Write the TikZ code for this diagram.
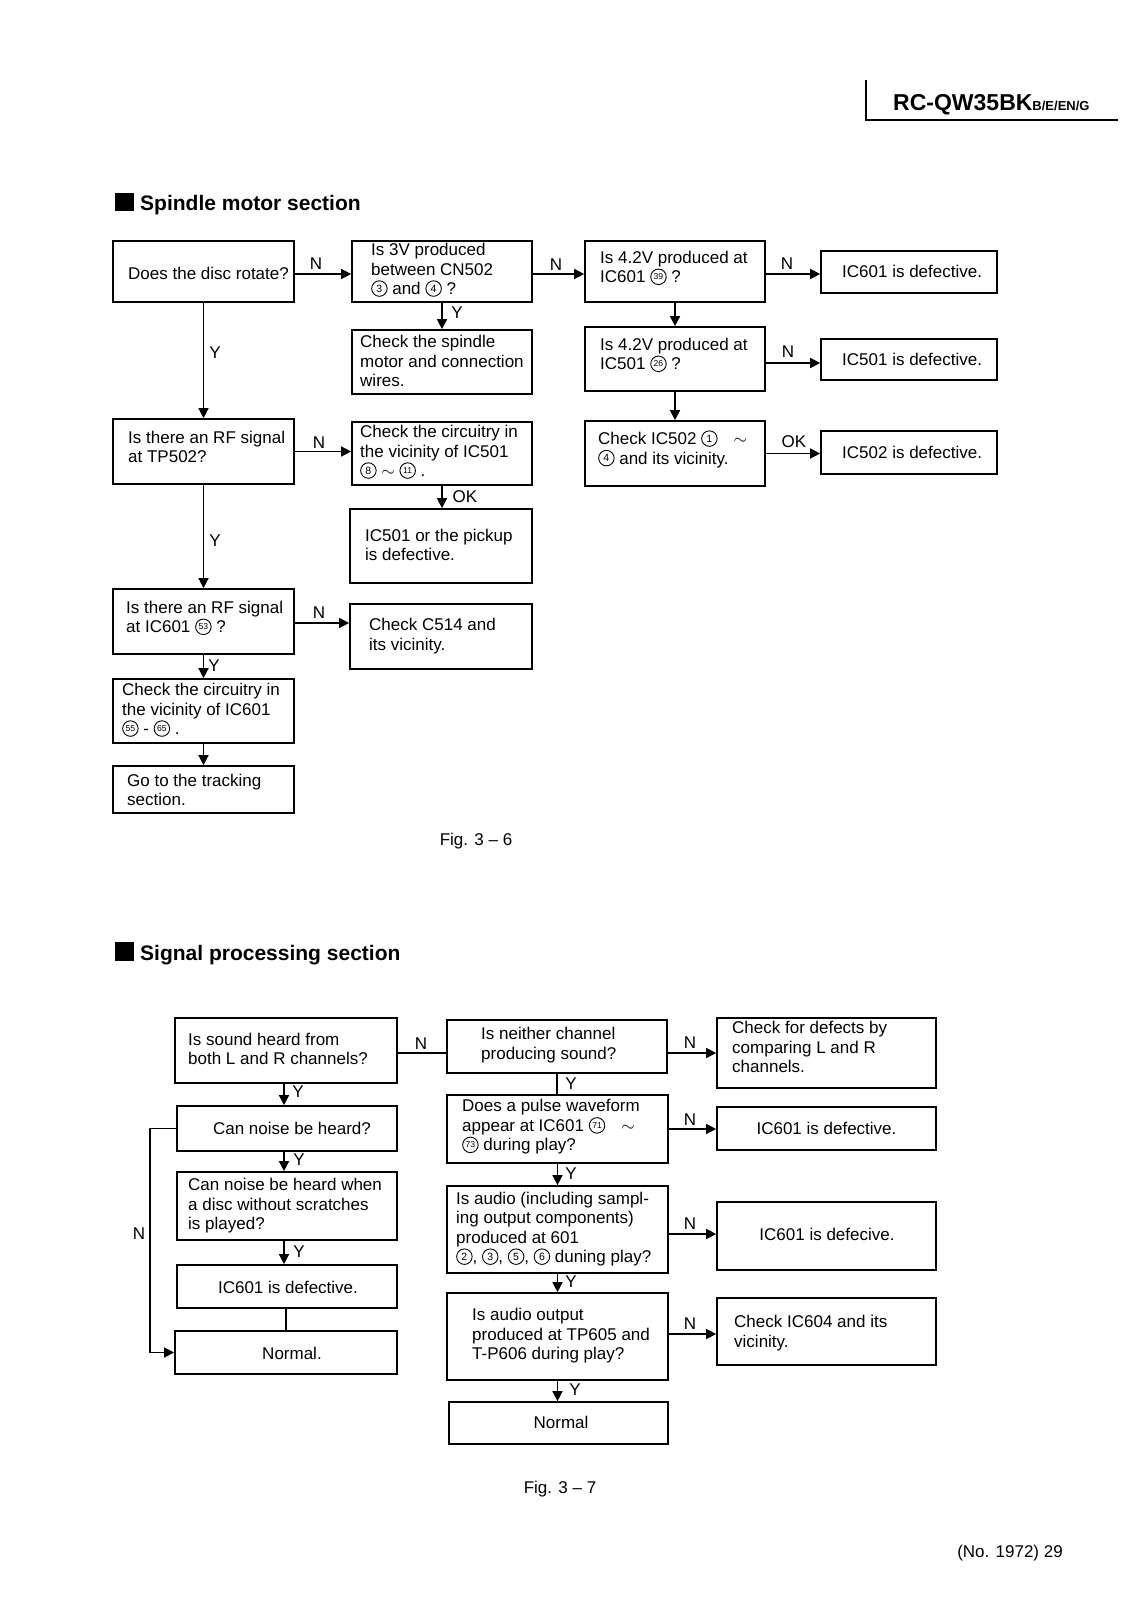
\documentclass[tikz,border=0pt]{standalone}
\usepackage{fontspec}
\setmainfont{Liberation Sans}
\usetikzlibrary{arrows.meta}
\newcommand\body{\fontsize{17}{19.5}\selectfont}
\newcommand\cn[1]{\tikz[baseline=-6pt]\node[draw,circle,line width=0.9pt,inner sep=0pt,minimum size=15.5pt,anchor=center,align=center,font=\fontsize{10.5}{10.5}\selectfont] (cnode) at (0,0) {#1};}
\newcommand\cnn[1]{\tikz[baseline=-6pt]\node[draw,circle,line width=0.9pt,inner sep=0pt,minimum size=15.5pt,anchor=center,align=center,font=\fontsize{8.6}{8.6}\selectfont] (cnode) at (0,0) {#1};}
\newcommand\mkbox[5]{\node[bx,minimum width={(#4-#2)*1pt},minimum height={(#5-#3)*1pt}] (#1) at ({(#2+#4)/2},{(#3+#5)/2}) {};}
\begin{document}
\begin{tikzpicture}[x=1pt,y=-1pt,
  bx/.style={draw,line width=1.7pt,inner sep=0pt,rectangle},
  txt/.style={anchor=west,align=left,inner sep=0pt,font=\body},
  ctxt/.style={anchor=center,align=center,inner sep=0pt,font=\body},
  lbl/.style={inner sep=0pt,font=\body},
  arr/.style={line width=1.5pt,-{Triangle[length=10pt,width=10pt]}},
  ln/.style={line width=1.5pt}]
\useasboundingbox[fill=white] (0,0) rectangle (1131,1600);

% header
\draw[line width=1.4pt] (866,80) -- (866,120) -- (1118,120);
\node[anchor=base west,inner sep=0pt] (title) at (893,111) {\bfseries\fontsize{23}{23}\selectfont RC-QW35BK{\fontsize{13}{13}\selectfont B/E/EN/G}};

% headings
\fill (115,193) rectangle (134,211);
\node[anchor=base west,inner sep=0pt,font=\bfseries\fontsize{21}{21}\selectfont] (h1) at (140,210) {Spindle motor section};
\fill (115,942) rectangle (134,961);
\node[anchor=base west,inner sep=0pt,font=\bfseries\fontsize{21}{21}\selectfont] (h2) at (140,960) {Signal processing section};

% ---------- spindle section boxes
\mkbox{A1}{113}{241}{294}{302}
\mkbox{A2}{352}{241}{532}{302}
\mkbox{A5}{352}{330}{532}{394}
\mkbox{A3}{585}{241}{765}{302}
\mkbox{A4}{821}{251}{997}{293}
\mkbox{B3}{585}{327}{765}{391}
\mkbox{B4}{821}{339}{997}{380}
\mkbox{C3}{585}{421}{765}{486}
\mkbox{C4}{821}{431}{997}{474}
\mkbox{B1}{113}{419}{294}{484}
\mkbox{B2}{352}{422}{532}{485}
\mkbox{B5}{350}{509}{532}{583}
\mkbox{C1}{113}{589}{294}{654}
\mkbox{C2}{350}{604}{532}{669}
\mkbox{D1}{113}{679}{294}{743}
\mkbox{E1}{113}{766}{294}{813}

\node[txt] (tA1) at (128,273) {Does the disc rotate?};
\node[txt] (tA2) at (371,270) {Is 3V produced\\between CN502\\\cn{3} and \cn{4} ?};
\node[txt] (tA5) at (360,361) {Check the spindle\\motor and connection\\wires.};
\node[txt] (tA3) at (600,268) {Is 4.2V produced at\\IC601 \cnn{39} ?};
\node[txt] (tA4) at (842,271) {IC601 is defective.};
\node[txt] (tB3) at (600,355) {Is 4.2V produced at\\IC501 \cnn{26} ?};
\node[txt] (tB4) at (842,359) {IC501 is defective.};
\node[txt] (tC3) at (598,449) {Check IC502 \cn{1}\enspace\, $\sim$\\\cn{4} and its vicinity.};
\node[txt] (tC4) at (842,452) {IC502 is defective.};
\node[txt] (tB1) at (128,447) {Is there an RF signal\\at TP502?};
\node[txt] (tB2) at (360,452) {Check the circuitry in\\the vicinity of IC501\\\cn{8} $\sim$ \cnn{11} .};
\node[txt] (tB5) at (365,545) {IC501 or the pickup\\is defective.};
\node[txt] (tC1) at (126,618) {Is there an RF signal\\at IC601 \cnn{53} ?};
\node[txt] (tC2) at (369,636) {Check C514 and\\its vicinity.};
\node[txt] (tD1) at (122,710) {Check the circuitry in\\the vicinity of IC601\\\cnn{55} - \cnn{65} .};
\node[txt] (tE1) at (127,790) {Go to the tracking\\section.};

\coordinate (rA) at (0,274);
\coordinate (rB3) at (0,363);
\coordinate (rC1) at (0,623);
\draw[arr] (A1.east |- rA) -- (A2.west |- rA);
\draw[arr] (A2.east |- rA) -- (A3.west |- rA);
\draw[arr] (A3.east |- rA) -- (A4.west |- rA);
\draw[arr] (A2.south) -- (A5.north);
\draw[arr] (A3.south) -- (B3.north);
\draw[arr] (B3.east |- rB3) -- (B4.west |- rB3);
\draw[arr] (B3.south) -- (C3.north);
\draw[arr] (C3.east) -- (C3.east -| C4.west);
\draw[arr] (A1.south) -- (B1.north);
\draw[arr] (B1.east) -- (B1.east -| B2.west);
\draw[arr] (B2.south) -- (B2.south |- B5.north);
\draw[arr] (B1.south) -- (C1.north);
\draw[arr] (C1.east |- rC1) -- (C2.west |- rC1);
\draw[arr] (C1.south) -- (D1.north);
\draw[arr] (D1.south) -- (E1.north);

\node[lbl] (l1) at (316,264) {N};
\node[lbl] (l2) at (556,265) {N};
\node[lbl] (l3) at (787,264) {N};
\node[lbl] (l4) at (788,352) {N};
\node[lbl] (l5) at (794,442) {OK};
\node[lbl] (l6) at (457,313) {Y};
\node[lbl] (l7) at (215,353) {Y};
\node[lbl] (l8) at (319,443) {N};
\node[lbl] (l9) at (465,497) {OK};
\node[lbl] (l10) at (215,541) {Y};
\node[lbl] (l11) at (319,613) {N};
\node[lbl] (l12) at (214,666) {Y};

\node[lbl] (fig6) at (476,841) {Fig. 3 -- 6};

% ---------- signal section boxes
\mkbox{S1}{175}{1018}{397}{1083}
\mkbox{S2}{177}{1106}{397}{1151}
\mkbox{S3}{177}{1172}{397}{1240}
\mkbox{S4}{177}{1265}{397}{1308}
\mkbox{S5}{175}{1331}{397}{1374}
\mkbox{T1}{447}{1020}{667}{1073}
\mkbox{T2}{447}{1095}{668}{1163}
\mkbox{T3}{447}{1186}{668}{1273}
\mkbox{T4}{447}{1293}{668}{1380}
\mkbox{T5}{449}{1402}{668}{1444}
\mkbox{U1}{717}{1018}{936}{1088}
\mkbox{U2}{717}{1107}{936}{1150}
\mkbox{U3}{717}{1202}{936}{1270}
\mkbox{U4}{717}{1298}{936}{1365}

\node[txt] (tS1) at (188,1049) {Is sound heard from\\both L and R channels?};
\node[ctxt] (tS2) at (292,1128) {Can noise be heard?};
\node[txt] (tS3) at (188,1206) {Can noise be heard when\\a disc without scratches\\is played?};
\node[ctxt] (tS4) at (288,1287) {IC601 is defective.};
\node[ctxt] (tS5) at (292,1353) {Normal.};
\node[txt] (tT1) at (481,1045) {Is neither channel\\producing sound?};
\node[txt] (tU1) at (732,1047) {Check for defects by\\comparing L and R\\channels.};
\node[txt] (tT2) at (462,1127) {Does a pulse waveform\\appear at IC601 \cnn{71}\enspace\, $\sim$\\\cnn{73} during play?};
\node[ctxt] (tU2) at (U2) {IC601 is defective.};
\node[txt] (tT3) at (456,1229) {Is audio (including sampl-\\ing output components)\\produced at 601\\\cn{2}, \cn{3}, \cn{5}, \cn{6} duning play?};
\node[ctxt] (tU3) at (827,1234) {IC601 is defecive.};
\node[txt] (tT4) at (472,1336) {Is audio output\\produced at TP605 and\\T-P606 during play?};
\node[txt] (tU4) at (734,1333) {Check IC604 and its\\vicinity.};
\node[ctxt] (tT5) at (561,1422) {Normal};

\coordinate (cS) at (284,0);
\coordinate (cS4) at (286,0);
\coordinate (cL) at (150,0);
\coordinate (rS1) at (0,1053);
\coordinate (rT2) at (0,1129);
\coordinate (rT3) at (0,1234);
\coordinate (rT4) at (0,1334);
\draw[arr] (S1.south -| cS) -- (S2.north -| cS);
\draw[arr] (S2.south -| cS) -- (S3.north -| cS);
\draw[arr] (S3.south -| cS) -- (S4.north -| cS);
\draw[ln] (S4.south -| cS4) -- (S5.north -| cS4);
\draw[arr] (S2.west) -- (S2.west -| cL) |- (S5.west);
\draw[ln] (S1.east |- rS1) -- (T1.west |- rS1);
\draw[arr] (T1.east |- rS1) -- (U1.west |- rS1);
\draw[ln] (T1.south) -- (T1.south |- T2.north);
\draw[arr] (T2.east |- rT2) -- (U2.west |- rT2);
\draw[arr] (T2.south) -- (T2.south |- T3.north);
\draw[arr] (T3.east |- rT3) -- (U3.west |- rT3);
\draw[arr] (T3.south) -- (T3.south |- T4.north);
\draw[arr] (T4.east |- rT4) -- (U4.west |- rT4);
\draw[arr] (T4.south) -- (T4.south |- T5.north);

\node[lbl] (m1) at (298,1092) {Y};
\node[lbl] (m2) at (299,1160) {Y};
\node[lbl] (m3) at (299,1252) {Y};
\node[lbl] (m4) at (139,1234) {N};
\node[lbl] (m5) at (421,1044) {N};
\node[lbl] (m6) at (690,1043) {N};
\node[lbl] (m7) at (571,1084) {Y};
\node[lbl] (m8) at (690,1120) {N};
\node[lbl] (m9) at (571,1174) {Y};
\node[lbl] (m10) at (690,1224) {N};
\node[lbl] (m11) at (571,1282) {Y};
\node[lbl] (m12) at (690,1324) {N};
\node[lbl] (m13) at (575,1390) {Y};

\node[lbl] (fig7) at (560,1489) {Fig. 3 -- 7};
\node[lbl] (pageno) at (1010,1553) {(No. 1972) 29};
\end{tikzpicture}
\end{document}
